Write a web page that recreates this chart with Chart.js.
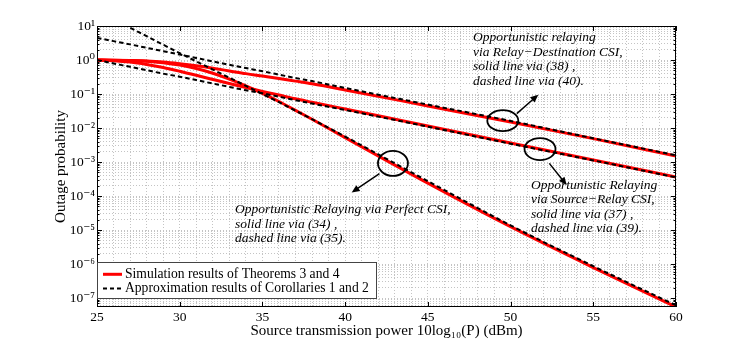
<!DOCTYPE html>
<html>
<head>
<meta charset="utf-8">
<title>Outage probability</title>
<script src="https://cdn.jsdelivr.net/npm/chart.js@4.4.1/dist/chart.umd.min.js"></script>
<style>
  html, body { margin: 0; padding: 0; background: #fff; }
  #wrap { width: 747px; height: 347px; }
</style>
</head>
<body>
<div id="wrap"><canvas id="outageChart" width="747" height="347"></canvas></div>
<script>
// Source transmission power 10log10(P) in dBm
const power = [25, 26, 27, 28, 29, 30, 31, 32, 33, 34, 35, 36, 37, 38, 40, 45, 50, 55, 60];

// Relay-Destination CSI: solid (38), dashed (40)
const rdSim    = [1, 0.989, 0.966, 0.933, 0.871, 0.776, 0.676, 0.575, 0.479, 0.398, 0.339, 0.288, 0.240, 0.200, 0.132, 0.0447, 0.0151, 0.0049, 0.00151];
const rdApprox = [4.47, 3.59, 2.88, 2.29, 1.82, 1.45, 1.15, 0.912, 0.724, 0.582, 0.468, 0.372, 0.295, 0.240, 0.151, 0.0490, 0.0162, 0.00501, 0.00158];

// Source-Relay CSI: solid (37), dashed (39)
const srSim    = [1, 0.955, 0.871, 0.741, 0.603, 0.468, 0.355, 0.269, 0.204, 0.155, 0.120, 0.0933, 0.0724, 0.0575, 0.0363, 0.0115, 0.00363, 0.00115, 0.000363];
const srApprox = [1, 0.794, 0.631, 0.501, 0.398, 0.324, 0.257, 0.204, 0.162, 0.129, 0.105, 0.0832, 0.0661, 0.0525, 0.0339, 0.0110, 0.00347, 0.00112, 0.000355];

// Perfect CSI: solid (34), dashed (35)
const perfSim    = [1, 0.989, 0.966, 0.923, 0.832, 0.708, 0.562, 0.407, 0.275, 0.174, 0.105, 0.0603, 0.0331, 0.0182, 0.00525, 0.000240, 0.0000126, 0.000000794, 0.000000055];
const perfApprox = [28.2, 15.8, 8.91, 5.01, 2.82, 1.585, 0.912, 0.525, 0.302, 0.174, 0.100, 0.0575, 0.0324, 0.0182, 0.00562, 0.000275, 0.0000138, 0.000000871, 0.0000000617];

// Axis ticks
const xTicks = [25, 30, 35, 40, 45, 50, 55, 60];
const yDecades = [-7, -6, -5, -4, -3, -2, -1, 0, 1];
const yMin = 5.5e-8, yMax = 10;

const legendLabels = ['Simulation results of Theorems 3 and 4', 'Approximation results of Corollaries 1 and 2'];

const SERIF = '"Liberation Serif", "DejaVu Serif", serif';
const SUP = { '0': '⁰', '1': '¹', '2': '²', '3': '³', '4': '⁴', '5': '⁵', '6': '⁶', '7': '⁷', '8': '⁸', '9': '⁹', '-': '⁻' };

function decadeOf(v) {
    const e = Math.round(Math.log10(v));
    return Math.abs(Math.log10(v) - e) < 1e-6 ? e : null;
}

function serie(values, sim) {
    return {
        data: power.map((p, i) => ({ x: p, y: values[i] })),
        borderColor: sim ? '#ff0000' : '#000000',
        borderWidth: sim ? 3 : 2,
        borderDash: sim ? [] : [4.5, 3],
        pointRadius: 0,
        cubicInterpolationMode: 'monotone',
        order: sim ? 2 : 1
    };
}

// Frame, inner ticks, annotations and legend
const overlay = {
    id: 'overlay',
    afterDatasetsDraw(chart) {
        const { ctx, chartArea: a, scales: { x, y } } = chart;
        ctx.save();

        // Box and ticks
        ctx.strokeStyle = '#000';
        ctx.lineWidth = 1;
        ctx.strokeRect(a.left + 0.5, a.top + 0.5, a.right - a.left - 1, a.bottom - a.top - 1);
        ctx.beginPath();
        xTicks.forEach(v => {
            const px = Math.round(x.getPixelForValue(v)) + 0.5;
            ctx.moveTo(px, a.bottom); ctx.lineTo(px, a.bottom - 5);
            ctx.moveTo(px, a.top); ctx.lineTo(px, a.top + 5);
        });
        y.ticks.forEach(t => {
            const py = Math.round(y.getPixelForValue(t.value)) + 0.5;
            const len = decadeOf(t.value) !== null ? 5 : 2.5;
            ctx.moveTo(a.left, py); ctx.lineTo(a.left + len, py);
            ctx.moveTo(a.right, py); ctx.lineTo(a.right - len, py);
        });
        ctx.stroke();

        // Ellipses with arrows
        const marcas = [
            { x: 49.53, y: 0.0165, rx: 15.5, ry: 10.5, from: [14, -7], to: [35.5, -26] },
            { x: 51.78, y: 0.00241, rx: 15.5, ry: 11, from: [9.3, 14.3], to: [26.7, 36] },
            { x: 42.89, y: 0.000917, rx: 15, ry: 12.5, from: [-13.5, 10.2], to: [-41.3, 29.2] }
        ];
        ctx.lineWidth = 1.8;
        marcas.forEach(m => {
            const cx = x.getPixelForValue(m.x), cy = y.getPixelForValue(m.y);
            ctx.beginPath();
            ctx.ellipse(cx, cy, m.rx, m.ry, 0, 0, Math.PI * 2);
            ctx.stroke();
            const x0 = cx + m.from[0], y0 = cy + m.from[1], x1 = cx + m.to[0], y1 = cy + m.to[1];
            const ang = Math.atan2(y1 - y0, x1 - x0);
            ctx.lineWidth = 1.5;
            ctx.beginPath();
            ctx.moveTo(x0, y0);
            ctx.lineTo(x1 - 5 * Math.cos(ang), y1 - 5 * Math.sin(ang));
            ctx.stroke();
            ctx.beginPath();
            ctx.moveTo(x1, y1);
            ctx.lineTo(x1 - 8 * Math.cos(ang) + 3.5 * Math.sin(ang), y1 - 8 * Math.sin(ang) - 3.5 * Math.cos(ang));
            ctx.lineTo(x1 - 8 * Math.cos(ang) - 3.5 * Math.sin(ang), y1 - 8 * Math.sin(ang) + 3.5 * Math.cos(ang));
            ctx.closePath();
            ctx.fillStyle = '#000';
            ctx.fill();
            ctx.lineWidth = 1.8;
        });

        // Annotation texts
        const notas = [
            { x: 473, y: 37.5, lines: ['Opportunistic relaying', 'via Relay\u2212Destination CSI,', 'solid line via (38) ,', 'dashed line via (40).'] },
            { x: 531, y: 185, lines: ['Opportunistic Relaying', 'via Source\u2212Relay CSI,', 'solid line via (37) ,', 'dashed line via (39).'] },
            { x: 235, y: 209.5, lines: ['Opportunistic Relaying via Perfect CSI,', 'solid line via (34) ,', 'dashed line via (35).'] }
        ];
        ctx.font = 'italic 13.5px ' + SERIF;
        ctx.fillStyle = '#000';
        ctx.textAlign = 'left';
        ctx.textBaseline = 'middle';
        notas.forEach(n => n.lines.forEach((l, i) => ctx.fillText(l, n.x, n.y + i * 14.6)));

        // Legend box
        const lx = a.left + 0.5, ly = 262.5, lw = 279, lh = 36;
        ctx.fillStyle = '#fff';
        ctx.fillRect(lx, ly, lw, lh);
        ctx.strokeStyle = '#444';
        ctx.lineWidth = 1;
        ctx.strokeRect(lx, ly, lw, lh);
        ctx.font = '13.6px ' + SERIF;
        legendLabels.forEach((label, i) => {
            const yy = 274.3 + i * 14.3;
            ctx.beginPath();
            ctx.strokeStyle = i === 0 ? '#ff0000' : '#000';
            ctx.lineWidth = i === 0 ? 3 : 2;
            ctx.setLineDash(i === 0 ? [] : [4, 3]);
            ctx.moveTo(103, yy); ctx.lineTo(122, yy);
            ctx.stroke();
            ctx.setLineDash([]);
            ctx.fillStyle = '#000';
            ctx.fillText(label, 125, yy);
        });
        ctx.restore();
    }
};

Chart.defaults.font.family = SERIF;
Chart.defaults.color = '#000';

new Chart(document.getElementById('outageChart'), {
    type: 'line',
    data: {
        datasets: [
            serie(rdSim, true), serie(srSim, true), serie(perfSim, true),
            serie(rdApprox, false), serie(srApprox, false), serie(perfApprox, false)
        ]
    },
    options: {
        responsive: false,
        animation: false,
        layout: { padding: { left: 0, right: 71, top: 26, bottom: 0 } },
        plugins: { legend: { display: false }, tooltip: { enabled: false } },
        scales: {
            x: {
                type: 'linear',
                min: 25, max: 60,
                afterBuildTicks: s => { s.ticks = power.length ? Array.from({ length: 36 }, (_, i) => ({ value: 25 + i })) : []; },
                afterFit: s => { s.height = 40; },
                ticks: {
                    autoSkip: false, maxRotation: 0, padding: 2,
                    font: { size: 13.5 },
                    callback: v => xTicks.includes(v) ? String(v) : ''
                },
                grid: { color: '#c4c4c4', lineWidth: 1, drawTicks: false },
                border: { display: false, dash: [1, 2] },
                title: {
                    display: true,
                    text: 'Source transmission power 10log\u2081\u2080(P) (dBm)',
                    font: { size: 15 },
                    padding: { top: 0, bottom: 7 }
                }
            },
            y: {
                type: 'logarithmic',
                min: yMin, max: yMax,
                afterBuildTicks: s => {
                    const t = [];
                    yDecades.concat([-8]).sort((p, q) => p - q).forEach(e => {
                        for (let k = 1; k <= 9; k++) {
                            const v = k * Math.pow(10, e);
                            if (v >= yMin && v <= yMax * 1.0001) t.push({ value: v });
                        }
                    });
                    s.ticks = t;
                },
                afterFit: s => { s.width = 97; },
                ticks: {
                    autoSkip: false, padding: 2,
                    font: { size: 13.5 },
                    callback: v => {
                        const e = decadeOf(v);
                        if (e === null || !yDecades.includes(e)) return '';
                        return '10' + String(e).split('').map(c => SUP[c]).join('');
                    }
                },
                grid: { color: '#c4c4c4', lineWidth: 1, drawTicks: false },
                border: { display: false, dash: [1, 2] },
                title: {
                    display: true,
                    text: 'Outage probability',
                    font: { size: 15 },
                    padding: { top: 52, bottom: 0 }
                }
            }
        }
    },
    plugins: [overlay]
});
</script>
</body>
</html>
